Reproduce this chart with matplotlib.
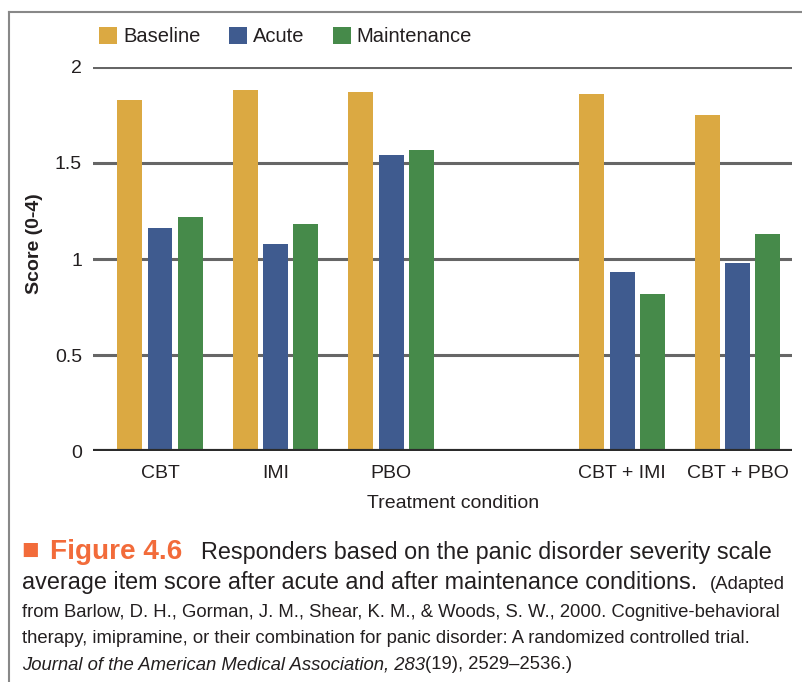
import matplotlib.pyplot as plt
from matplotlib.lines import Line2D
import numpy as np

plt.rcParams["font.family"] = ["Liberation Sans", "DejaVu Sans"]

conditions = ["CBT", "IMI", "PBO", "CBT + IMI", "CBT + PBO"]
positions = [0, 1, 2, 4, 5]
baseline = [1.83, 1.88, 1.87, 1.86, 1.75]
acute = [1.16, 1.08, 1.54, 0.93, 0.98]
maintenance = [1.22, 1.18, 1.57, 0.82, 1.13]

series = [("Baseline", baseline, "#dba942"),
          ("Acute", acute, "#3f5b8f"),
          ("Maintenance", maintenance, "#468a4a")]

text_color = "#231f20"
orange = "#f26b3a"

W, H = 803, 682
fig = plt.figure(figsize=(W / 100, H / 100), dpi=100)

# axes box in pixel coords: x 93..792, y 67..451 (from top)
ax = fig.add_axes([93 / W, (H - 451) / H, (792 - 93) / W, (451 - 67) / H])

width = 0.216
step = 0.262
x = np.array(positions, dtype=float)
for i, (name, vals, col) in enumerate(series):
    ax.bar(x + (i - 1) * step, vals, width, color=col, label=name, zorder=3)

ax.set_ylim(0, 2)
ax.set_xlim(-0.58, 5.47)
ax.set_yticks([0, 0.5, 1, 1.5, 2])
ax.set_yticklabels(["0", "0.5", "1", "1.5", "2"])
ax.set_xticks(positions)
ax.set_xticklabels(conditions)
ax.tick_params(axis="both", length=0, labelsize=14, colors=text_color)
ax.tick_params(axis="y", pad=8)
ax.tick_params(axis="x", pad=10)
for s in ax.spines.values():
    s.set_visible(False)
ax.grid(False)
for yv in [0.5, 1, 1.5, 2]:
    ax.axhline(yv, color="#666666", lw=2.2, zorder=1)
ax.axhline(0, color="#2b2b2b", lw=3, zorder=4)

fig.text(35 / W, 1 - 244 / H, "Score (0-4)", rotation=90, ha="center",
         va="center", fontsize=14, fontweight="bold", color=text_color)
fig.text(453 / W, 1 - 504 / H, "Treatment condition", ha="center",
         va="center", fontsize=14, color=text_color)

fig.legend(loc="upper left", bbox_to_anchor=(89 / W, 1 - 17 / H), ncol=3,
           frameon=False, fontsize=14.5, handlelength=0.9, handleheight=0.9,
           handletextpad=0.3, columnspacing=1.4, borderpad=0,
           labelcolor=text_color)

# frame lines on top and left
fig.add_artist(Line2D([9 / W, 1], [1 - 12 / H, 1 - 12 / H], color="#888888",
                      lw=1.5, transform=fig.transFigure))
fig.add_artist(Line2D([9 / W, 9 / W], [0, 1 - 12 / H], color="#888888",
                      lw=1.5, transform=fig.transFigure))

# caption
renderer = fig.canvas.get_renderer()


def fit_size(txt, span, **kw):
    t = fig.text(0, 0, txt, fontsize=12, **kw)
    w = t.get_window_extent(renderer).width
    t.remove()
    return 12 * span / w


def put(xpx, ybase, txt, size, **kw):
    color = kw.pop("color", text_color)
    t = fig.text(xpx / W, 1 - ybase / H, txt, va="baseline", fontsize=size,
                 color=color, **kw)
    return xpx + t.get_window_extent(renderer).width


line2 = "average item score after acute and after maintenance conditions."
line3 = ("from Barlow, D. H., Gorman, J. M., Shear, K. M., & Woods, S. W., 2000. "
         "Cognitive-behavioral")
main = fit_size(line2, 675)
small = fit_size(line3, 758)

put(21, 559, "■", main * 1.25, color=orange)
put(50, 559, "Figure 4.6", main * 1.2, fontweight="bold", color=orange)
put(201, 559, "Responders based on the panic disorder severity scale", main)
put(22, 589, line2, main)
put(710, 589, "(Adapted", small)
put(22, 617, line3, small)
put(22, 643, "therapy, imipramine, or their combination for panic disorder: "
             "A randomized controlled trial.", small)
xe = put(22, 669, "Journal of the American Medical Association, 283", small,
         style="italic")
put(xe, 669, "(19), 2529–2536.)", small)

fig.savefig("out.png", dpi=100)
